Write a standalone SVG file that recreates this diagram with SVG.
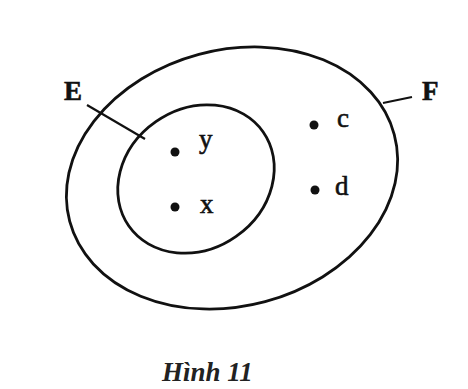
<svg xmlns="http://www.w3.org/2000/svg" width="468" height="389" viewBox="0 0 468 389">
<style>
.set{fill:none;stroke:#111;stroke-width:2.8}
.lead{stroke:#111;stroke-width:2.2;fill:none}
.dot{fill:#111}
.lbl{font-family:"Liberation Serif","Times New Roman",serif;font-size:27px;fill:#111;stroke:#111;stroke-width:0.6}
.cap{font-family:"Liberation Serif","Times New Roman",serif;font-size:27px;font-style:italic;font-weight:bold;fill:#222}
</style>
<rect width="468" height="389" fill="#fff"/>
<g id="F">
<ellipse class="set" cx="232" cy="178" rx="168" ry="128" transform="rotate(-15 232 178)"/>
<text class="lbl" x="422" y="100" font-weight="bold">F</text>
</g>
<g id="E">
<ellipse class="set" cx="196" cy="179" rx="82" ry="70" transform="rotate(-35 196 179)"/>
<text class="lbl" x="64" y="100" font-weight="bold">E</text>
</g>
<g id="y"><circle class="dot" cx="175" cy="152" r="4.5"/><text class="lbl" x="199" y="148">y</text></g>
<g id="x"><circle class="dot" cx="175" cy="207" r="4.5"/><text class="lbl" x="200" y="213">x</text></g>
<g id="c"><circle class="dot" cx="314" cy="125" r="4.5"/><text class="lbl" x="337" y="127">c</text></g>
<g id="d"><circle class="dot" cx="315" cy="190" r="4.5"/><text class="lbl" x="335" y="195">d</text></g>
<g id="connectors">
<line class="lead" x1="87" y1="105" x2="145" y2="139"/>
<line class="lead" x1="383" y1="103" x2="412" y2="97"/>
</g>
<text class="cap" x="162" y="381">Hình 11</text>
</svg>
